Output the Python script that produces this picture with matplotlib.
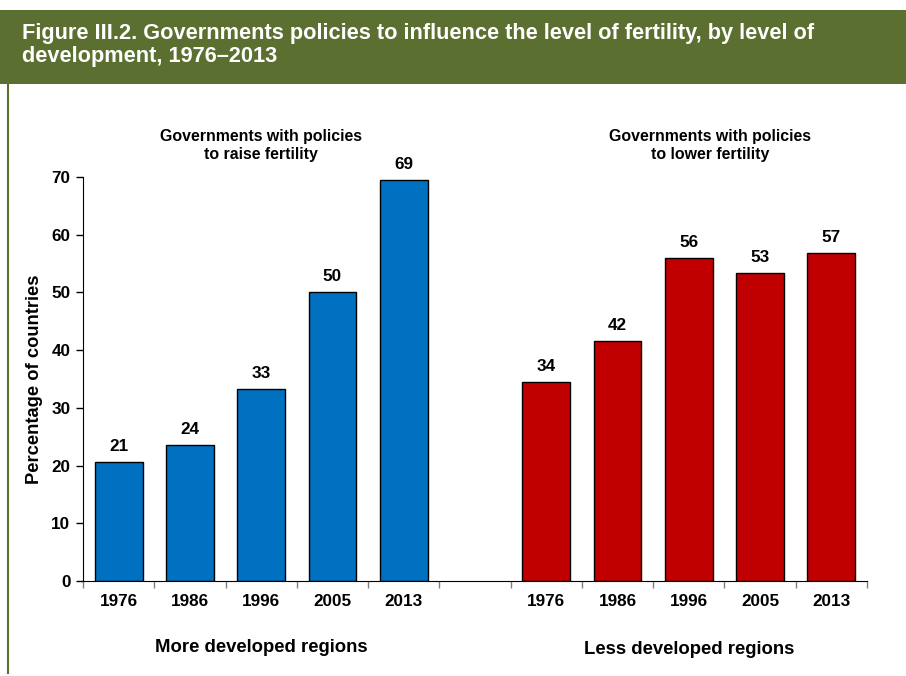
import numpy as np
import matplotlib.pyplot as plt
from matplotlib.patches import Rectangle
from matplotlib.lines import Line2D

plt.rcParams['font.family'] = ['Liberation Sans', 'DejaVu Sans']
plt.rcParams['font.weight'] = 'bold'

years = ['1976', '1986', '1996', '2005', '2013']
raise_pct = [20.6, 23.6, 33.3, 50.0, 69.4]
lower_pct = [34.5, 41.6, 55.9, 53.4, 56.8]
groups = ['More developed regions', 'Less developed regions']
subtitles = ['Governments with policies\nto raise fertility',
             'Governments with policies\nto lower fertility']
title = ('Figure III.2. Governments policies to influence the level of fertility, by level of\n'
         'development, 1976\u20132013')

blue = '#0070C0'
red = '#C00000'
green = '#5B7030'

fig = plt.figure(figsize=(9.06, 6.76), dpi=100)

# header band and left rule
fig.patches.append(Rectangle((0.0, 1 - 84 / 676), 1.0, 74 / 676, transform=fig.transFigure,
                             facecolor=green, edgecolor='none', zorder=0))
fig.lines.append(Line2D([8 / 906, 8 / 906], [0.005, 1 - 84 / 676], transform=fig.transFigure,
                        color=green, lw=1.5))
fig.text(22 / 906, 1 - 45 / 676, title, color='white', fontsize=15.7, fontweight='bold',
         va='center', ha='left', linespacing=1.18)

ax = fig.add_axes([83 / 906, 1 - 581 / 676, 784 / 906, 404 / 676])

x_raise = np.arange(5)
x_lower = np.arange(6, 11)
w = 0.67
b1 = ax.bar(x_raise, raise_pct, width=w, color=blue, edgecolor='black', linewidth=1)
b2 = ax.bar(x_lower, lower_pct, width=w, color=red, edgecolor='black', linewidth=1)
for bars in (b1, b2):
    for r in bars:
        ax.text(r.get_x() + r.get_width() / 2, r.get_height() + 1.4, f'{r.get_height():.0f}',
                ha='center', va='bottom', fontsize=12.3, fontweight='bold')

ax.set_xlim(-0.5, 10.5)
ax.set_ylim(0, 70)
ax.set_yticks(range(0, 71, 10))
ax.tick_params(axis='y', labelsize=12.3, length=5, width=1, pad=4)
ax.set_xticks(np.arange(-0.5, 11, 1))
ax.set_xticklabels([])
ax.tick_params(axis='x', length=5, width=1, color='#808080')
for x, yr in zip(list(x_raise) + list(x_lower), years + years):
    ax.text(x, -2.3, yr, ha='center', va='top', fontsize=12.3, fontweight='bold')

for s in ('top', 'right'):
    ax.spines[s].set_visible(False)
ax.set_ylabel('Percentage of countries', fontsize=13.2, fontweight='bold', labelpad=6)

ax.text(2.0, -11.5, groups[0], ha='center', va='center', fontsize=13.3, fontweight='bold')
ax.text(8.0, -11.8, groups[1], ha='center', va='center', fontsize=13.3, fontweight='bold')
ax.text(2.0, 75.4, subtitles[0], ha='center', va='center', fontsize=11.4, fontweight='bold',
        linespacing=1.25)
ax.text(8.3, 75.4, subtitles[1], ha='center', va='center', fontsize=11.4, fontweight='bold',
        linespacing=1.25)
for t in ax.get_yticklabels():
    t.set_fontweight('bold')

fig.savefig('out.png', dpi=100)
